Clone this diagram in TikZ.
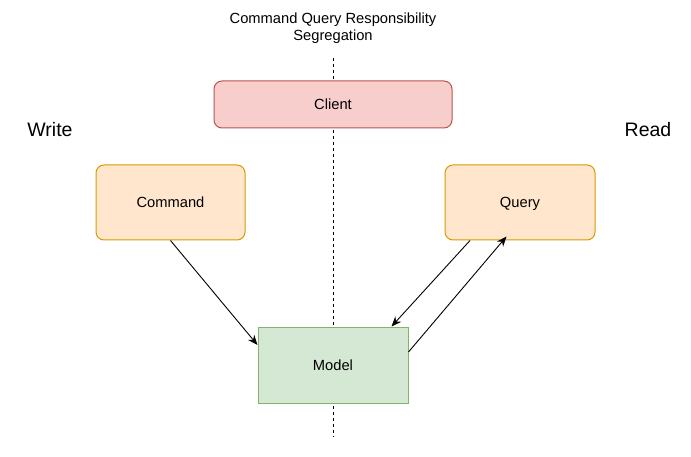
\documentclass[tikz,border=0pt]{standalone}
\usepackage{fontspec}
\setmainfont{Liberation Sans}
\usetikzlibrary{arrows.meta}
\definecolor{clientfill}{HTML}{F8CECC}
\definecolor{clientdraw}{HTML}{B85450}
\definecolor{orfill}{HTML}{FFE6CC}
\definecolor{ordraw}{HTML}{D79B00}
\definecolor{gfill}{HTML}{D5E8D4}
\definecolor{gdraw}{HTML}{82B366}
\tikzset{
  box/.style={draw, line width=1pt, inner sep=0pt, text height=10.5pt, text depth=0pt, font=\fontsize{14.7}{17}\selectfont},
  rbox/.style={box, rounded corners=8pt},
  conn/.style={draw, line width=0.9pt, -{Stealth[length=10pt,width=8pt]}},
  side/.style={font=\fontsize{19.5}{23}\selectfont},
}
\begin{document}
\begin{tikzpicture}[x=1pt,y=-1pt]
\useasboundingbox[fill=white] (0,0) rectangle (691,457);
\coordinate (dtop) at (333,58);
\coordinate (dbot) at (333,437);
\draw[line width=1pt, dash pattern=on 3pt off 3pt] (dtop) -- (dbot);
\node[align=center, font=\fontsize{14.7}{17}\selectfont] (title) at (333,28.5) {Command Query Responsibility\\Segregation};
\node[rbox, fill=clientfill, draw=clientdraw, minimum width=238pt, minimum height=47pt] (client) at (333,104.5) {Client};
\node[rbox, fill=orfill, draw=ordraw, minimum width=149pt, minimum height=75pt] (command) at (170.5,202.5) {Command};
\node[rbox, fill=orfill, draw=ordraw, minimum width=150pt, minimum height=75pt] (query) at (520,202.5) {Query};
\node[box, fill=gfill, draw=gdraw, minimum width=150pt, minimum height=76pt] (model) at (333,365) {Model};
\node[side] (write) at (50,130) {Write};
\node[side] (read) at (648,130) {Read};
\draw[conn] (command.south) -- (model.west |- 0,345);
\draw[conn] ([xshift=-50pt]query.south) -- ([xshift=58.5pt]model.north);
\draw[conn] (model.east |- 0,352) -- ([xshift=-13.5pt,yshift=4pt]query.south);
\end{tikzpicture}
\end{document}
